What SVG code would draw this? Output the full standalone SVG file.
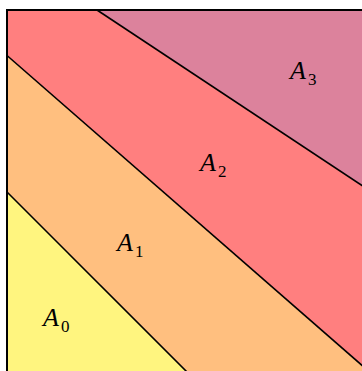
<svg xmlns="http://www.w3.org/2000/svg" width="362" height="371" viewBox="0 0 362 371">
  <style>
    .lbl { font-family: "Liberation Serif", "Times New Roman", serif; font-style: italic; font-size: 26px; fill: #000; }
    .sub { font-style: normal; font-size: 17px; }
    .bd { stroke: #000; stroke-width: 1.6; fill: none; }
    .frame { stroke: #000; stroke-width: 2; fill: none; }
  </style>
  <g id="A3">
    <rect x="7" y="10" width="400" height="400" fill="#DC829C"/>
    <text class="lbl" x="290" y="79">A<tspan class="sub" dx="2" dy="6">3</tspan></text>
  </g>
  <g id="A2">
    <polygon points="7,10 97,10 420,224 420,420 7,420" fill="#FF7F7F"/>
    <text class="lbl" x="200" y="171">A<tspan class="sub" dx="2" dy="6">2</tspan></text>
  </g>
  <g id="A1">
    <polygon points="7,55.5 420,416 420,420 7,420" fill="#FFBF7F"/>
    <text class="lbl" x="117" y="251">A<tspan class="sub" dx="2" dy="6">1</tspan></text>
  </g>
  <g id="A0">
    <polygon points="7,192 235,420 7,420" fill="#FFF57F"/>
    <text class="lbl" x="43" y="326">A<tspan class="sub" dx="2" dy="6">0</tspan></text>
  </g>
  <g id="connectors">
    <line class="bd" x1="97" y1="10" x2="420" y2="224"/>
    <line class="bd" x1="7" y1="55.5" x2="420" y2="416"/>
    <line class="bd" x1="7" y1="192" x2="235" y2="420"/>
    <polyline class="frame" points="7,420 7,10 420,10"/>
  </g>
</svg>
